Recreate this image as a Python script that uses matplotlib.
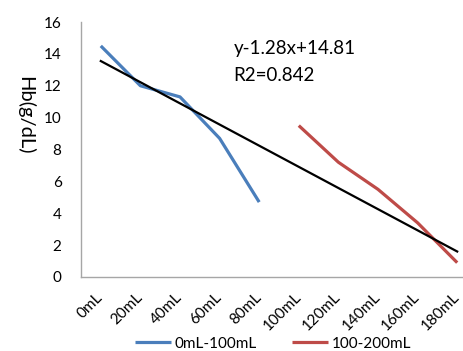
import numpy as np
import matplotlib
matplotlib.use('Agg')
from matplotlib import pyplot as plt

# data
categories = ['0mL', '20mL', '40mL', '60mL', '80mL', '100mL', '120mL', '140mL', '160mL', '180mL']
low_idx = [0, 1, 2, 3, 4]
low_vals = [14.5, 12.0, 11.3, 8.7, 4.7]
high_idx = [5, 6, 7, 8, 9]
high_vals = [9.5, 7.2, 5.5, 3.4, 0.9]
# trendline ends as drawn in the reference
trend_idx = [0, 9]
trend_vals = [13.55, 1.6]
yticks = [0, 2, 4, 6, 8, 10, 12, 14, 16]

plt.rcParams['font.family'] = ['Lato', 'DejaVu Sans']

fig = plt.figure(figsize=(4.64, 3.51), dpi=100)
ax = fig.add_axes([81 / 464, 1 - 277 / 351, (477 - 81) / 464, (277 - 22) / 351])

ax.plot(low_idx, low_vals, color='#4A7EBB', lw=2.3, label='0mL-100mL', solid_capstyle='butt')
ax.plot(high_idx, high_vals, color='#BE4B48', lw=2.3, label='100-200mL', solid_capstyle='butt')
ax.plot(trend_idx, trend_vals, color='black', lw=1.6)

ax.text(0.385, 0.875, 'y-1.28x+14.81', transform=ax.transAxes, fontsize=13.5)
ax.text(0.385, 0.77, 'R2=0.842', transform=ax.transAxes, fontsize=13.5)

ax.set_xlim(-0.5, 9.5)
ax.set_ylim(0, 16)
ax.set_yticks(yticks)
ax.set_xticks(range(len(categories)))
ax.set_xticklabels(categories, rotation=45, ha='right', va='center',
                   rotation_mode='anchor', fontsize=11)
ax.tick_params(axis='y', length=0, pad=14, labelsize=11)
ax.tick_params(axis='x', length=0, pad=13)

for s in ['top', 'right']:
    ax.spines[s].set_visible(False)
for s in ['left', 'bottom']:
    ax.spines[s].set_color('#A6A6A6')
    ax.spines[s].set_linewidth(1.0)

fig.text(25 / 464, 1 - 115 / 351, 'Hb(g/dL)', rotation=270, ha='center', va='center', fontsize=14.5)

fig.legend(loc='lower center', bbox_to_anchor=(0.588, -0.038), ncol=2, frameon=False,
           fontsize=11, handlelength=2.4, columnspacing=2.3, handletextpad=0.2)

fig.savefig('out.png', dpi=100)
